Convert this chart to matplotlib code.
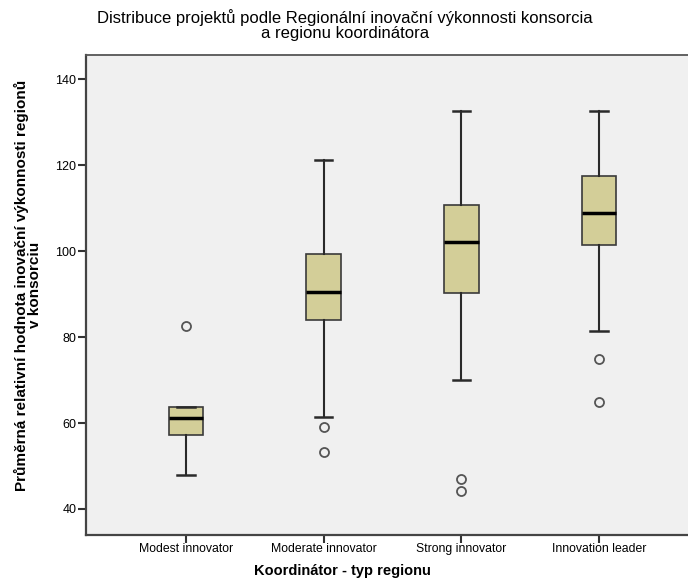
import matplotlib
matplotlib.use("Agg")
import matplotlib.pyplot as plt

plt.rcParams['font.family'] = ['Liberation Sans', 'DejaVu Sans']

# box statistics
categories = ["Modest innovator", "Moderate innovator", "Strong innovator", "Innovation leader"]
whislo = [48.0, 61.4, 70.0, 81.5]
q1 = [57.3, 84.0, 90.2, 101.4]
med = [61.1, 90.5, 102.1, 108.8]
q3 = [63.8, 99.3, 110.7, 117.4]
whishi = [63.8, 121.2, 132.6, 132.6]
fliers = [[82.6], [59.1, 53.3], [47.0, 44.3], [74.8, 64.9]]

title = "Distribuce projektů podle Regionální inovační výkonnosti konsorcia\na regionu koordinátora"
ylabel = "Průměrná relativní hodnota inovační výkonnosti regionů\nv konsorciu"
xlabel = "Koordinátor - typ regionu"

stats = []
for i, c in enumerate(categories):
    stats.append(dict(label=c, whislo=whislo[i], q1=q1[i], med=med[i],
                      q3=q3[i], whishi=whishi[i], fliers=fliers[i]))

fig = plt.figure(figsize=(6.88, 5.82), dpi=100)
ax = fig.add_axes([86/688, 47/582, 1 - 86/688, 480/582])
ax.set_facecolor("#F0F0F0")

ax.bxp(stats, positions=range(len(categories)), widths=0.25, patch_artist=True,
       boxprops=dict(facecolor="#D3CE98", edgecolor="#3a3a3a", linewidth=1.2),
       medianprops=dict(color="black", linewidth=2.5),
       whiskerprops=dict(color="#2a2a2a", linewidth=1.5),
       capprops=dict(color="#2a2a2a", linewidth=1.8),
       capwidths=0.125,
       flierprops=dict(marker="o", markerfacecolor="none", markeredgecolor="#555555",
                       markersize=6.5, markeredgewidth=1.3))

ax.set_xlim(-0.726, 3.646)
ax.set_ylim(33.95, 145.6)
ax.set_yticks([40, 60, 80, 100, 120, 140])
ax.set_xticks(range(len(categories)))
ax.set_xticklabels(categories, fontsize=8.8)
for lab in ax.get_xticklabels():
    lab.set_va("baseline")
ax.tick_params(axis="y", labelsize=9, length=6, width=1.5, color="#333333", pad=1)
ax.tick_params(axis="x", length=6, width=1.5, color="#333333", pad=6)

for s in ["left", "bottom"]:
    ax.spines[s].set_color("#444444")
    ax.spines[s].set_linewidth(1.6)
ax.spines["top"].set_color("#555555")
ax.spines["top"].set_linewidth(1.3)
ax.spines["right"].set_visible(False)

fig.text(345/688, 1 - 25/582, title, ha="center", va="center", fontsize=12,
         linespacing=1.02)
fig.text(342/688, 1 - 571/582, xlabel, ha="center", va="center", fontsize=10.5,
         fontweight="bold")
fig.text(28/688, 1 - 285/582, ylabel, ha="center", va="center", rotation=90,
         fontsize=11, fontweight="bold", linespacing=0.95)

fig.savefig("out.png", dpi=100)
